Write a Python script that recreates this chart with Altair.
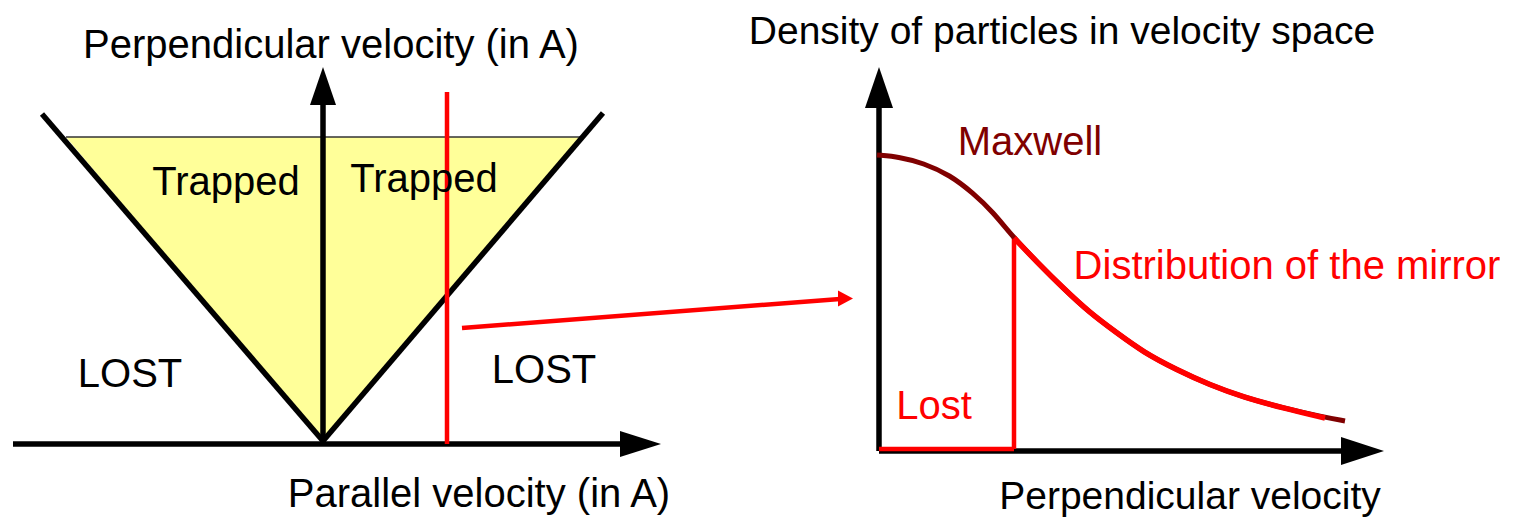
import altair as alt
import pandas as pd

# ---- data (diagram coordinates) ----
# trapped region (yellow): top edge and apex
trap_y = [137, 441]
trap_x_left = [66, 322]
trap_x_right = [580, 322]

# black line segments: x, y, x2, y2
# left V, right V, left vertical axis, left horizontal axis,
# right vertical axis, right horizontal axis
blk_x1 = [42, 323, 323, 13, 879, 879]
blk_y1 = [114, 441, 444, 444, 451, 451]
blk_x2 = [323, 603, 323, 622, 879, 1343]
blk_y2 = [441, 113, 104, 444, 106, 451]

# red segments: cut line, pointer arrow, right vertical, lost base
red_x1 = [447, 462, 1014, 879]
red_y1 = [92, 328, 238, 449]
red_x2 = [447, 840, 1014, 1014]
red_y2 = [444, 299, 449, 449]

# top edge of trapped area
edge_x = [66]
edge_x2 = [580]
edge_y = [137]

# arrowheads pointing right: id, base x, tip x, centre y, half height
ar_id = ["a1", "a2", "a3"]
ar_base = [620, 1341, 838]
ar_tip = [661, 1384, 853]
ar_cy = [444, 451, 298.5]
ar_half = [13, 14, 8]

# arrowheads pointing up: id, base y, tip y, centre x, half width
au_id = ["u1", "u2"]
au_base = [105, 108]
au_tip = [67, 67]
au_cx = [323, 879]
au_half = [13, 14]

# Maxwell curve
mx_x = [877, 900, 923, 950, 973, 993, 1013, 1037, 1063, 1090, 1117, 1143, 1177, 1210, 1243, 1283, 1323, 1345]
mx_y = [155, 157, 163, 175, 193, 212, 237, 262, 288, 313, 333, 352, 370, 385, 397, 408, 417, 421]

# mirror distribution curve
mr_x = [1014, 1037, 1063, 1090, 1117, 1143, 1177, 1210, 1243, 1283, 1325]
mr_y = [238, 262, 288, 313, 333, 352, 370, 385, 397, 408, 418]

# labels
blk_text = ["Perpendicular velocity (in A)", "Trapped", "Trapped", "LOST", "LOST",
            "Parallel velocity (in A)"]
blk_tx = [331, 226, 424, 130, 544, 479]
blk_ty = [58, 195, 192, 387, 383, 507]

edge_text = ["Density of particles in velocity space", "Perpendicular velocity"]
edge_tx = [1062, 1190]
edge_ty = [44, 509]

mx_text = ["Maxwell"]
mx_tx = [1030]
mx_ty = [155]

red_text = ["Distribution of the mirror", "Lost"]
red_tx = [1287, 934]
red_ty = [279, 419]

# ---- chart ----
xs = alt.Scale(domain=[8, 1506], nice=False, zero=False)
ys = alt.Scale(domain=[8, 519], nice=False, zero=False, reverse=True)
FONT = "Liberation Sans"

trap_df = pd.DataFrame({"y": trap_y, "x": trap_x_left, "x2": trap_x_right})
trap = alt.Chart(trap_df).mark_area(orient="horizontal", color="#ffff99").encode(
    y=alt.Y("y:Q", scale=ys, axis=None),
    x=alt.X("x:Q", scale=xs, axis=None, stack=None),
    x2="x2:Q",
)

edge_df = pd.DataFrame({"x": edge_x, "x2": edge_x2, "y": edge_y})
edge = alt.Chart(edge_df).mark_rule(color="#333333", strokeWidth=1.5).encode(
    x=alt.X("x:Q", scale=xs, axis=None), x2="x2:Q",
    y=alt.Y("y:Q", scale=ys, axis=None),
)

blk_df = pd.DataFrame({"x": blk_x1, "y": blk_y1, "x2": blk_x2, "y2": blk_y2})
blk = alt.Chart(blk_df).mark_rule(color="black", strokeWidth=5.5, strokeCap="butt").encode(
    x=alt.X("x:Q", scale=xs, axis=None), x2="x2:Q",
    y=alt.Y("y:Q", scale=ys, axis=None), y2="y2:Q",
)

red_df = pd.DataFrame({"x": red_x1, "y": red_y1, "x2": red_x2, "y2": red_y2})
red = alt.Chart(red_df).mark_rule(color="#ff0000", strokeWidth=4.5, strokeCap="butt").encode(
    x=alt.X("x:Q", scale=xs, axis=None), x2="x2:Q",
    y=alt.Y("y:Q", scale=ys, axis=None), y2="y2:Q",
)

rows = []
for i, b, t, c, h in zip(ar_id, ar_base, ar_tip, ar_cy, ar_half):
    rows.append({"id": i, "x": b, "y": c - h, "y2": c + h})
    rows.append({"id": i, "x": t, "y": c, "y2": c})
ar_df = pd.DataFrame(rows)
ar_df["col"] = ar_df["id"].map({"a1": "black", "a2": "black", "a3": "#ff0000"})
arr_r = alt.Chart(ar_df).mark_area(orient="vertical").encode(
    x=alt.X("x:Q", scale=xs, axis=None),
    y=alt.Y("y:Q", scale=ys, axis=None, stack=None), y2="y2:Q",
    detail="id:N",
    color=alt.Color("col:N", scale=None),
)

rows = []
for i, b, t, c, h in zip(au_id, au_base, au_tip, au_cx, au_half):
    rows.append({"id": i, "y": b, "x": c - h, "x2": c + h})
    rows.append({"id": i, "y": t, "x": c, "x2": c})
au_df = pd.DataFrame(rows)
arr_u = alt.Chart(au_df).mark_area(orient="horizontal", color="black").encode(
    y=alt.Y("y:Q", scale=ys, axis=None),
    x=alt.X("x:Q", scale=xs, axis=None, stack=None), x2="x2:Q",
    detail="id:N",
)

mx_df = pd.DataFrame({"x": mx_x, "y": mx_y})
mx = alt.Chart(mx_df).mark_line(color="#800000", strokeWidth=5, interpolate="basis").encode(
    x=alt.X("x:Q", scale=xs, axis=None), y=alt.Y("y:Q", scale=ys, axis=None),
    order="x:Q",
)

mr_df = pd.DataFrame({"x": mr_x, "y": mr_y})
mr = alt.Chart(mr_df).mark_line(color="#ff0000", strokeWidth=5.5, interpolate="basis").encode(
    x=alt.X("x:Q", scale=xs, axis=None), y=alt.Y("y:Q", scale=ys, axis=None),
    order="x:Q",
)


def labels(texts, tx, ty, color, fs):
    df = pd.DataFrame({"t": texts, "x": tx, "y": ty})
    return alt.Chart(df).mark_text(font=FONT, fontSize=fs, align="center",
                                   baseline="alphabetic", color=color).encode(
        x=alt.X("x:Q", scale=xs, axis=None), y=alt.Y("y:Q", scale=ys, axis=None),
        text="t:N",
    )


chart = alt.layer(
    trap, edge, blk, red, arr_r, arr_u, mx, mr,
    labels(blk_text, blk_tx, blk_ty, "black", 40),
    labels(edge_text, edge_tx, edge_ty, "black", 39),
    labels(mx_text, mx_tx, mx_ty, "#800000", 40),
    labels(red_text, red_tx, red_ty, "#ff0000", 40),
).properties(
    width=1498, height=511, padding=0,
    autosize=alt.AutoSizeParams(type="none"),
    background="white",
).configure_view(stroke=None)

chart.save("out.html", embed_options={"renderer": "svg", "actions": False})
